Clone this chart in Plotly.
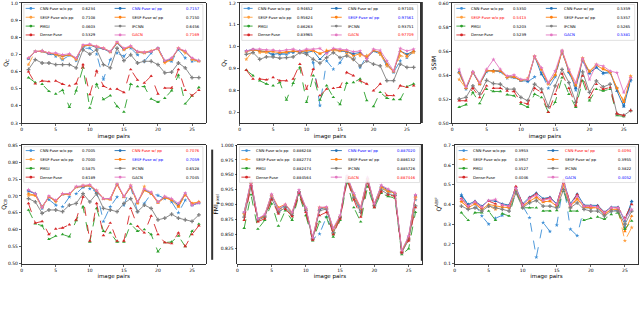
import plotly.graph_objects as go

x_pairs = list(range(1, 27))
methods = ["CNN-Fuse w/o pp", "CNN-Fuse w/ pp", "SESF-Fuse w/o pp", "SESF-Fuse w/ pp",
           "PMGI", "IFCNN", "Dense-Fuse", "GACN"]

# ---------------- metric 1 : Q_C ----------------
qc_cnn_wo = [0.675,0.717,0.721,0.704,0.689,0.670,0.694,0.664,0.736,0.736,0.702,0.555,0.670,0.708,0.689,0.736,0.698,0.660,0.708,0.736,0.664,0.660,0.727,0.679,0.660,0.664]
qc_cnn_w = [0.675,0.717,0.717,0.704,0.698,0.689,0.698,0.679,0.746,0.755,0.740,0.732,0.713,0.765,0.727,0.746,0.713,0.708,0.717,0.736,0.660,0.675,0.732,0.717,0.675,0.660]
qc_sesf_wo = [0.641,0.717,0.717,0.708,0.698,0.675,0.698,0.670,0.750,0.755,0.746,0.736,0.713,0.770,0.727,0.746,0.713,0.708,0.717,0.732,0.650,0.670,0.736,0.708,0.670,0.660]
qc_sesf_w = [0.679,0.717,0.721,0.708,0.702,0.689,0.698,0.675,0.751,0.755,0.746,0.736,0.717,0.770,0.732,0.746,0.717,0.713,0.721,0.736,0.656,0.670,0.736,0.717,0.675,0.660]
qc_pmgi = [0.565,0.536,0.527,0.485,0.470,0.492,0.393,0.489,0.622,0.388,0.527,0.437,0.460,0.397,0.365,0.527,0.513,0.513,0.441,0.422,0.445,0.489,0.580,0.412,0.460,0.508]
qc_ifcnn = [0.612,0.670,0.650,0.650,0.641,0.641,0.641,0.622,0.727,0.702,0.727,0.641,0.622,0.736,0.664,0.698,0.650,0.660,0.660,0.641,0.593,0.597,0.650,0.622,0.565,0.565]
qc_dense = [0.599,0.530,0.546,0.542,0.546,0.527,0.517,0.530,0.641,0.466,0.604,0.515,0.498,0.498,0.479,0.612,0.551,0.534,0.574,0.470,0.504,0.504,0.612,0.492,0.460,0.492]
qc_gacn = [0.679,0.717,0.721,0.708,0.708,0.698,0.704,0.679,0.755,0.759,0.746,0.736,0.717,0.774,0.736,0.750,0.717,0.713,0.717,0.736,0.664,0.679,0.736,0.721,0.679,0.664]
qc_means = ["0.6234", "0.7157", "0.7108", "0.7150", "0.4603", "0.6456", "0.5329", "0.7169"]

# ---------------- metric 2 : Q_Y ----------------
qy_cnn_wo = [0.980,0.983,0.980,0.977,0.958,0.965,0.965,0.973,0.980,0.973,0.927,0.730,0.935,0.897,0.927,0.973,0.965,0.905,0.958,0.980,0.965,0.912,0.882,0.935,0.950,0.977]
qy_cnn_w = [0.980,0.988,0.980,0.977,0.965,0.968,0.973,0.977,0.980,0.973,0.980,0.942,0.973,0.988,0.980,0.977,0.968,0.973,0.947,0.980,0.973,0.920,0.886,0.980,0.965,0.980]
qy_sesf_wo = [0.942,0.980,0.973,0.973,0.980,0.973,0.973,0.980,0.973,0.980,0.980,0.968,0.983,0.980,0.980,0.968,0.942,0.958,0.958,0.983,0.965,0.912,0.886,0.958,0.953,0.973]
qy_sesf_w = [0.977,0.985,0.980,0.980,0.977,0.973,0.977,0.980,0.977,0.983,0.983,0.968,0.980,0.988,0.983,0.980,0.958,0.968,0.950,0.983,0.973,0.920,0.886,0.980,0.958,0.980]
qy_pmgi = [0.892,0.867,0.844,0.829,0.821,0.836,0.756,0.833,0.905,0.745,0.867,0.756,0.821,0.768,0.735,0.833,0.836,0.852,0.753,0.726,0.791,0.764,0.758,0.758,0.817,0.829]
qy_ifcnn = [0.965,0.973,0.942,0.953,0.953,0.947,0.950,0.953,0.973,0.965,0.942,0.924,0.950,0.973,0.950,0.958,0.942,0.912,0.935,0.920,0.912,0.844,0.844,0.920,0.905,0.905]
qy_dense = [0.892,0.852,0.852,0.848,0.859,0.844,0.844,0.852,0.920,0.806,0.897,0.776,0.806,0.809,0.814,0.882,0.867,0.844,0.829,0.798,0.829,0.776,0.776,0.821,0.814,0.821]
qy_gacn = [0.980,0.988,0.988,0.985,0.985,0.980,0.985,0.988,0.980,0.988,0.988,0.992,0.968,0.992,0.988,0.985,0.977,0.980,0.942,0.988,0.983,0.935,0.889,0.992,0.980,0.988]
qy_means = ["0.94652", "0.97105", "0.95624", "0.97561", "0.86263", "0.93751", "0.83965", "0.97709"]

# ---------------- metric 3 : SSIM ----------------
ss_cnn_wo = [0.5419,0.5282,0.5419,0.5323,0.5427,0.5433,0.5427,0.5373,0.5378,0.5356,0.5345,0.5384,0.5419,0.5290,0.5384,0.5597,0.5419,0.5274,0.5515,0.5411,0.5474,0.5411,0.5419,0.5290,0.5145,0.5351]
ss_cnn_w = [0.5427,0.5290,0.5427,0.5323,0.5433,0.5438,0.5433,0.5384,0.5384,0.5351,0.5351,0.5556,0.5405,0.5329,0.5400,0.5597,0.5427,0.5290,0.5529,0.5419,0.5460,0.5419,0.5427,0.5268,0.5137,0.5364]
ss_sesf_wo = [0.5364,0.5290,0.5419,0.5323,0.5438,0.5427,0.5438,0.5378,0.5384,0.5356,0.5373,0.5556,0.5447,0.5323,0.5400,0.5603,0.5438,0.5323,0.5542,0.5433,0.5488,0.5460,0.5419,0.5290,0.5186,0.5392]
ss_sesf_w = [0.5419,0.5290,0.5427,0.5323,0.5438,0.5433,0.5433,0.5384,0.5384,0.5356,0.5364,0.5556,0.5447,0.5329,0.5400,0.5597,0.5433,0.5310,0.5537,0.5427,0.5482,0.5447,0.5427,0.5290,0.5173,0.5384]
ss_pmgi = [0.5132,0.5153,0.5255,0.5164,0.5282,0.5263,0.5263,0.5236,0.5227,0.5159,0.5132,0.5241,0.5214,0.5090,0.5173,0.5378,0.5241,0.5132,0.5351,0.5186,0.5282,0.5268,0.5282,0.5063,0.5055,0.5104]
ss_ifcnn = [0.5200,0.5214,0.5310,0.5241,0.5356,0.5329,0.5323,0.5282,0.5282,0.5214,0.5186,0.5323,0.5282,0.5137,0.5310,0.5447,0.5337,0.5173,0.5427,0.5255,0.5351,0.5301,0.5323,0.5077,0.5063,0.5104]
ss_dense = [0.5186,0.5186,0.5290,0.5214,0.5310,0.5290,0.5290,0.5268,0.5263,0.5173,0.5159,0.5290,0.5255,0.5090,0.5241,0.5411,0.5290,0.5145,0.5392,0.5214,0.5323,0.5282,0.5296,0.5077,0.5063,0.5104]
ss_gacn = [0.5447,0.5301,0.5427,0.5337,0.5447,0.5529,0.5447,0.5392,0.5400,0.5364,0.5364,0.5556,0.5460,0.5337,0.5433,0.5605,0.5447,0.5337,0.5537,0.5364,0.5488,0.5474,0.5433,0.5419,0.5255,0.5378]
ss_means = ["0.5350", "0.5359", "0.5413", "0.5357", "0.5203", "0.5265", "0.5239", "0.5381"]

# ---------------- metric 4 : Q_CB ----------------
qcb_cnn_wo = [0.7144,0.7067,0.6635,0.6894,0.6731,0.6683,0.6971,0.7067,0.7260,0.7212,0.7115,0.6250,0.6683,0.6971,0.6731,0.7260,0.6538,0.6779,0.7067,0.7019,0.6923,0.6827,0.6510,0.6875,0.6731,0.6798]
qcb_cnn_w = [0.7163,0.7067,0.6683,0.6971,0.6856,0.7048,0.7067,0.7260,0.7279,0.7308,0.7115,0.6923,0.6923,0.7356,0.6971,0.7279,0.6827,0.7183,0.7087,0.6827,0.6971,0.6894,0.6731,0.7067,0.6731,0.6798]
qcb_sesf_wo = [0.7019,0.7019,0.6683,0.6971,0.6827,0.7067,0.7067,0.7260,0.7308,0.7308,0.7163,0.6923,0.6923,0.7356,0.6971,0.7308,0.6779,0.7279,0.7087,0.6827,0.6971,0.6875,0.6683,0.7019,0.6779,0.6827]
qcb_sesf_w = [0.7067,0.7019,0.6663,0.6971,0.6856,0.7048,0.7048,0.7260,0.7279,0.7308,0.7144,0.6923,0.6894,0.7337,0.6971,0.7260,0.6798,0.7163,0.7067,0.6798,0.6952,0.6875,0.6683,0.7048,0.6779,0.6827]
qcb_pmgi = [0.6587,0.6183,0.6125,0.5721,0.5817,0.5865,0.5798,0.6279,0.6683,0.5644,0.6635,0.5962,0.5913,0.5644,0.5644,0.6173,0.5962,0.6010,0.5865,0.5356,0.5625,0.5644,0.5817,0.5510,0.5962,0.6173]
qcb_ifcnn = [0.6923,0.6827,0.6490,0.6587,0.6587,0.6538,0.6731,0.6779,0.7067,0.6827,0.7067,0.6635,0.6587,0.6538,0.6779,0.6923,0.6538,0.6731,0.6635,0.6298,0.6346,0.6462,0.6346,0.6298,0.6250,0.6442]
qcb_dense = [0.6779,0.6202,0.6250,0.5865,0.6029,0.6058,0.6154,0.6298,0.6971,0.5673,0.6779,0.5837,0.6202,0.5673,0.5673,0.6635,0.6106,0.5913,0.6413,0.5865,0.5625,0.5596,0.5913,0.5510,0.5865,0.6125]
qcb_gacn = [0.7183,0.7067,0.6663,0.7000,0.6875,0.7067,0.7067,0.7279,0.7308,0.7337,0.7163,0.6923,0.6923,0.7385,0.6990,0.7308,0.6827,0.7212,0.7115,0.6827,0.6990,0.6923,0.6779,0.7087,0.6731,0.6798]
qcb_means = ["0.7005", "0.7076", "0.7000", "0.7059", "0.5875", "0.6528", "0.6189", "0.7045"]

# ---------------- metric 5 : FMI ----------------
fmi_cnn_wo = [0.8842,0.9350,0.8734,0.8799,0.9120,0.8868,0.8959,0.8842,0.9206,0.8906,0.8413,0.8504,0.8788,0.8547,0.8788,0.9441,0.9136,0.8895,0.9404,0.8975,0.9270,0.9216,0.9163,0.8199,0.8424,0.9082]
fmi_cnn_w = [0.8868,0.9388,0.8761,0.8815,0.9163,0.8906,0.8991,0.8852,0.9227,0.8938,0.8429,0.8922,0.8949,0.8585,0.8799,0.9473,0.9173,0.8922,0.9441,0.9002,0.9312,0.9243,0.9190,0.8210,0.8456,0.9152]
fmi_sesf_wo = [0.8831,0.9350,0.8745,0.8799,0.9136,0.8895,0.8975,0.8842,0.9216,0.8922,0.8424,0.8949,0.8938,0.8563,0.8788,0.9457,0.9152,0.8922,0.9420,0.8991,0.9281,0.9216,0.9173,0.8199,0.8413,0.9109]
fmi_sesf_w = [0.8852,0.9377,0.8745,0.8815,0.9163,0.8949,0.9002,0.8868,0.9216,0.8922,0.8424,0.8949,0.8949,0.8574,0.8799,0.9457,0.9163,0.8949,0.9430,0.9002,0.9297,0.9227,0.9190,0.8216,0.8440,0.9136]
fmi_pmgi = [0.8601,0.9163,0.8585,0.8734,0.9013,0.8638,0.8895,0.8734,0.9163,0.8815,0.8387,0.8708,0.8788,0.8451,0.8734,0.9377,0.8949,0.8708,0.9297,0.8949,0.9190,0.9136,0.9109,0.8156,0.8253,0.8868]
fmi_ifcnn = [0.8788,0.9297,0.8734,0.8788,0.9099,0.8868,0.8949,0.8815,0.9206,0.8895,0.8413,0.8895,0.8922,0.8520,0.8777,0.9430,0.9109,0.8868,0.9388,0.8975,0.9243,0.9173,0.9152,0.8188,0.8403,0.8975]
fmi_dense = [0.8734,0.9323,0.8708,0.8761,0.9082,0.8842,0.8922,0.8799,0.9190,0.8868,0.8403,0.8815,0.8868,0.8494,0.8761,0.9420,0.9082,0.8788,0.9377,0.8949,0.9216,0.9163,0.9136,0.8188,0.8387,0.8949]
fmi_gacn = [0.8868,0.9404,0.8761,0.8831,0.9173,0.8922,0.9002,0.8868,0.9243,0.8949,0.8440,0.8949,0.8959,0.8601,0.8815,0.9484,0.9190,0.8949,0.9457,0.9013,0.9323,0.9259,0.9200,0.8226,0.8467,0.9163]
fmi_means = ["0.886248", "0.887020", "0.882774", "0.886132", "0.882474", "0.885726", "0.884564", "0.887446"]

# ---------------- metric 6 : Q^AB/F ----------------
qab_cnn_wo = [0.4500,0.4000,0.4033,0.3417,0.3000,0.3300,0.3450,0.3833,0.4750,0.3917,0.3333,0.1333,0.3083,0.2633,0.2950,0.5083,0.2750,0.2417,0.3833,0.3800,0.3800,0.3467,0.3667,0.3700,0.2833,0.4133]
qab_cnn_w = [0.4417,0.4000,0.4167,0.3917,0.4200,0.4167,0.4033,0.3967,0.4867,0.4033,0.4367,0.4583,0.4300,0.4367,0.4033,0.5200,0.4033,0.4533,0.3967,0.3950,0.3950,0.3617,0.3867,0.3867,0.3167,0.4167]
qab_sesf_wo = [0.4133,0.3833,0.4033,0.3750,0.3917,0.3750,0.3867,0.3833,0.4700,0.3917,0.4167,0.4333,0.4133,0.4167,0.3917,0.5000,0.3867,0.4250,0.3833,0.3833,0.3833,0.3500,0.3750,0.3700,0.2167,0.2833]
qab_sesf_w = [0.4167,0.3833,0.4033,0.3750,0.4000,0.3917,0.3867,0.3833,0.4750,0.3917,0.4167,0.4367,0.4133,0.4167,0.3917,0.5033,0.3917,0.4300,0.3867,0.3833,0.3833,0.3500,0.3750,0.3750,0.2633,0.3417]
qab_pmgi = [0.3583,0.3200,0.3583,0.3583,0.3667,0.3200,0.3533,0.3417,0.4667,0.3833,0.3833,0.3833,0.3667,0.3667,0.3700,0.4667,0.3667,0.3667,0.3200,0.3300,0.3367,0.3250,0.3500,0.3583,0.2750,0.3167]
qab_ifcnn = [0.3917,0.3750,0.3833,0.3667,0.3917,0.3833,0.3750,0.3667,0.4583,0.3833,0.4083,0.4200,0.3917,0.3917,0.3833,0.4750,0.3833,0.4083,0.3750,0.3667,0.3667,0.3417,0.3667,0.3667,0.3000,0.3667]
qab_dense = [0.4300,0.3917,0.4133,0.3833,0.4167,0.4033,0.3967,0.3917,0.4917,0.4000,0.4333,0.4533,0.4250,0.4333,0.4000,0.5250,0.4000,0.4500,0.3917,0.3917,0.3917,0.3583,0.3833,0.3833,0.3333,0.4000]
qab_gacn = [0.4250,0.3917,0.4133,0.3867,0.4200,0.4250,0.3967,0.3917,0.4833,0.3967,0.4300,0.4467,0.4200,0.4300,0.4000,0.5167,0.3967,0.4417,0.3917,0.3917,0.3867,0.3583,0.3833,0.3833,0.3250,0.3750]
qab_means = ["0.3953", "0.4094", "0.3957", "0.3955", "0.3527", "0.3822", "0.4046", "0.4052"]

y_titles = ["Q<sub>C</sub>", "Q<sub>Y</sub>", "SSIM", "Q<sub>CB</sub>", "FMI<sub>pixel</sub>", "Q<sup>AB/F</sup>"]
x_ticks = [0, 5, 10, 15, 20, 25]

panels = [
    dict(series=[qc_cnn_wo, qc_cnn_w, qc_sesf_wo, qc_sesf_w, qc_pmgi, qc_ifcnn, qc_dense, qc_gacn],
         means=qc_means, hl={1: "blue", 7: "red"},
         yt=[0.3, 0.4, 0.5, 0.6, 0.7, 0.8, 0.9, 1.0], yfmt=".1f", yr=[0.3, 1.0],
         px=(20.7, 1, 205, 123)),
    dict(series=[qy_cnn_wo, qy_cnn_w, qy_sesf_wo, qy_sesf_w, qy_pmgi, qy_ifcnn, qy_dense, qy_gacn],
         means=qy_means, hl={3: "blue", 7: "red"},
         yt=[0.7, 0.8, 0.9, 1.0, 1.1, 1.2], yfmt=".1f", yr=[0.65, 1.2],
         px=(239, 1, 420, 123)),
    dict(series=[ss_cnn_wo, ss_cnn_w, ss_sesf_wo, ss_sesf_w, ss_pmgi, ss_ifcnn, ss_dense, ss_gacn],
         means=ss_means, hl={2: "red", 7: "blue"},
         yt=[0.50, 0.52, 0.54, 0.56, 0.58, 0.60], yfmt=".2f", yr=[0.50, 0.60],
         px=(452, 1, 637.5, 123)),
    dict(series=[qcb_cnn_wo, qcb_cnn_w, qcb_sesf_wo, qcb_sesf_w, qcb_pmgi, qcb_ifcnn, qcb_dense, qcb_gacn],
         means=qcb_means, hl={1: "red", 3: "blue"},
         yt=[0.50, 0.55, 0.60, 0.65, 0.70, 0.75, 0.80, 0.85], yfmt=".2f", yr=[0.50, 0.85],
         px=(20.7, 145.5, 205, 266)),
    dict(series=[fmi_cnn_wo, fmi_cnn_w, fmi_sesf_wo, fmi_sesf_w, fmi_pmgi, fmi_ifcnn, fmi_dense, fmi_gacn],
         means=fmi_means, hl={1: "blue", 7: "red"},
         yt=[0.825, 0.850, 0.875, 0.900, 0.925, 0.950, 0.975, 1.000], yfmt=".3f", yr=[0.80, 1.0],
         px=(236.7, 145.5, 422, 266)),
    dict(series=[qab_cnn_wo, qab_cnn_w, qab_sesf_wo, qab_sesf_w, qab_pmgi, qab_ifcnn, qab_dense, qab_gacn],
         means=qab_means, hl={1: "red", 7: "blue"},
         yt=[0.1, 0.2, 0.3, 0.4, 0.5, 0.6, 0.7], yfmt=".1f", yr=[0.1, 0.7],
         px=(454.3, 145.5, 638.5, 266)),
]

colors = ["#3d8fd6", "#1f6fb4", "#ffa040", "#ff7f0e", "#2ca02c", "#7f7f7f", "#d62728", "#e377c2"]
dashes = ["dash", "solid", "dash", "solid", "dash", "solid", "dash", "solid"]
symbols = ["star", "triangle-up", "star", "triangle-up", "triangle-up", "cross", "triangle-up", "star"]

W, H = 640, 312
FONT = "DejaVu Sans"
fig = go.Figure()
layout = {}
shapes = []
annotations = []

for k, p in enumerate(panels):
    n = "" if k == 0 else str(k + 1)
    xa, ya = "x" + n, "y" + n
    l, t, r, b = p["px"]
    pw, ph = r - l, b - t
    for j in range(8):
        fig.add_trace(go.Scatter(
            x=x_pairs, y=p["series"][j], mode="lines+markers", name=methods[j],
            line=dict(color=colors[j], width=0.9, dash=dashes[j]),
            marker=dict(symbol=symbols[j], size=3.2, color=colors[j], line=dict(width=0)),
            xaxis=xa, yaxis=ya, showlegend=False, hoverinfo="skip"))
    layout["xaxis" + n] = dict(
        domain=[l / W, r / W], anchor=ya, range=[0, 27], tickvals=x_ticks,
        ticks="outside", ticklen=2, tickwidth=0.6, tickcolor="black",
        tickfont=dict(size=4.5, family=FONT, color="black"),
        showline=True, mirror=True, linecolor="black", linewidth=0.8,
        showgrid=False, zeroline=False,
        title=dict(text="image pairs", font=dict(size=5.5, family=FONT, color="black"), standoff=2))
    layout["yaxis" + n] = dict(
        domain=[1 - b / H, 1 - t / H], anchor=xa, range=p["yr"], tickvals=p["yt"],
        tickformat=p["yfmt"], ticks="outside", ticklen=2, tickwidth=0.6, tickcolor="black",
        tickfont=dict(size=4.5, family=FONT, color="black"),
        showline=True, mirror=True, linecolor="black", linewidth=0.8,
        showgrid=False, zeroline=False,
        title=dict(text=y_titles[k], font=dict(size=6, family=FONT, color="black"), standoff=1))

    # legend frame
    xd, yd = xa + " domain", ya + " domain"
    shapes.append(dict(type="rect", xref=xd, yref=yd, x0=0.012, x1=0.985,
                       y0=1 - 38 / ph, y1=1 - 1.5 / ph,
                       line=dict(color="#cccccc", width=0.6), fillcolor="rgba(255,255,255,0.85)", layer="above"))
    for j in range(8):
        col, row = j % 2, j // 2
        yy = 1 - (5.5 + 9 * row) / ph
        s0, s1 = (0.022, 0.078) if col == 0 else (0.505, 0.565)
        tx = 0.088 if col == 0 else 0.59
        vx = 0.415 if col == 0 else 0.978
        shapes.append(dict(type="line", xref=xd, yref=yd, x0=s0, x1=s1, y0=yy, y1=yy,
                           line=dict(color=colors[j], width=0.9, dash=dashes[j]), layer="above"))
        shapes.append(dict(type="circle", xref=xd, yref=yd, xsizemode="pixel", ysizemode="pixel",
                           xanchor=(s0 + s1) / 2, yanchor=yy, x0=-1.4, x1=1.4, y0=-1.4, y1=1.4,
                           fillcolor=colors[j], line=dict(width=0), layer="above"))
        tc = p["hl"].get(j, "black")
        annotations.append(dict(xref=xd, yref=yd, x=tx, y=yy, text=methods[j], showarrow=False,
                                xanchor="left", yanchor="middle",
                                font=dict(size=3.8, family=FONT, color=tc)))
        annotations.append(dict(xref=xd, yref=yd, x=vx, y=yy, text=p["means"][j], showarrow=False,
                                xanchor="right", yanchor="middle",
                                font=dict(size=3.8, family=FONT, color=tc)))

# separator bars visible between the sub-figures of the original
for (bx, by0, by1) in [(421.5, 0, 123), (211.5, 150, 262), (421.5, 145, 263)]:
    shapes.append(dict(type="line", xref="paper", yref="paper", x0=bx / W, x1=bx / W,
                       y0=1 - by1 / H, y1=1 - by0 / H, line=dict(color="#333333", width=2)))

fig.update_layout(width=W, height=H, margin=dict(l=0, r=0, t=0, b=0),
                  paper_bgcolor="white", plot_bgcolor="white",
                  shapes=shapes, annotations=annotations, **layout)
fig.write_html("out.html", config={"displayModeBar": False, "staticPlot": True},
               post_script="document.body.style.margin='0';document.body.style.overflow='hidden';")
